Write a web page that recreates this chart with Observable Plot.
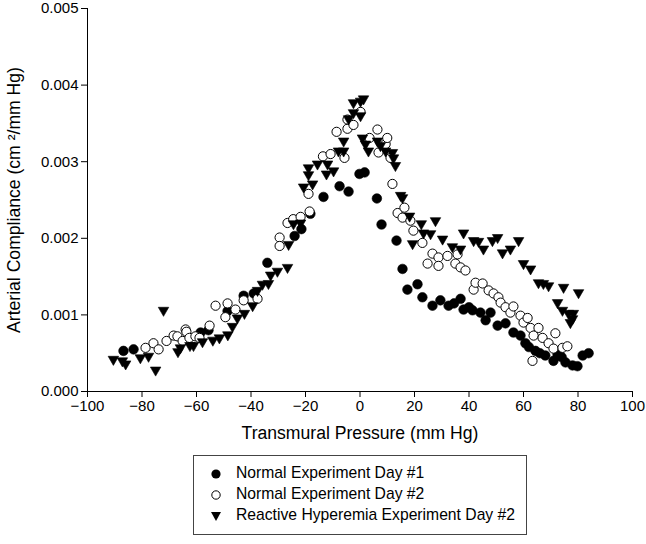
<!DOCTYPE html>
<html>
<head>
<meta charset="utf-8">
<script src="https://cdn.jsdelivr.net/npm/d3@7"></script>
<script src="https://cdn.jsdelivr.net/npm/@observablehq/plot@0.6"></script>
<style>
  body { margin: 0; background: white; font-family: "Liberation Sans", Arial, sans-serif; }
  #chart { position: relative; width: 646px; height: 544px; }
  #legend {
    position: absolute; left: 193px; top: 455px; width: 332px; height: 78px;
    border: 1px solid #444; box-sizing: content-box; font-size: 15.7px; color: #000;
  }
  .row { position: absolute; left: 16px; height: 20px; line-height: 20px; white-space: nowrap; }
  .row svg { vertical-align: middle; margin-right: 14px; }
</style>
</head>
<body>
<div id="chart">
  <div id="plot"></div>
  <div id="legend"></div>
</div>
<script>
// Arterial compliance vs transmural pressure, three experiment series

const seriesNames = [
  "Normal Experiment Day #1",
  "Normal Experiment Day #2",
  "Reactive Hyperemia Experiment Day #2"
];

const xTicks = [-100, -80, -60, -40, -20, 0, 20, 40, 60, 80, 100];
const yTicks = [0, 0.001, 0.002, 0.003, 0.004, 0.005];

// Normal Experiment Day #1 (filled circles)
const day1X = [-86.8, -83.1, -58.5, -55.6, -48.6, -42.7, -39, -34, -24, -21.5, -18.2, -13.4, -7.5, -4.2, -0.2, 1.7,
  6.2, 7.9, 13.4, 15.6, 17.4, 21.1, 22.9, 26.6, 29.5, 32.5, 34.5, 36.9, 38, 40, 41.3, 44.2, 46.1, 47.9, 50.5, 53.4,
  56.3, 58.9, 60.7, 62, 64.4, 66, 68, 71, 72.5, 74, 75.4, 78, 79.8, 81.7, 83.9];
const day1Y = [0.00053, 0.00055, 0.00077, 0.0008, 0.00105, 0.00125, 0.00128, 0.00168, 0.00203, 0.00212, 0.00232,
  0.00254, 0.00268, 0.00261, 0.00284, 0.00286, 0.00252, 0.00218, 0.00197, 0.0016, 0.00133, 0.0014, 0.00123, 0.00112,
  0.00119, 0.00112, 0.00115, 0.00121, 0.00107, 0.0011, 0.00106, 0.00103, 0.00093, 0.00103, 0.00086, 0.00089, 0.00077,
  0.00073, 0.00063, 0.00058, 0.00053, 0.0005, 0.00047, 0.0004, 0.00048, 0.00045, 0.00038, 0.00034, 0.00033, 0.00047,
  0.0005];

// Normal Experiment Day #2 (open circles)
const day2X = [-78.7, -75.8, -73.9, -71, -68.4, -67, -65.1, -64, -63.7, -62.6, -60.4, -58.9, -55.2, -53, -49.4, -48.6,
  -45.7, -42.7, -37.6, -29.5, -29.5, -26.6, -24.5, -21.8, -18.5, -18.9, -13.6, -10.8, -8.6, -5.7, -4.6, -4.6, -2.4,
  0.2, 3.5, 6.4, 6.8, 9.4, 10, 11.2, 11.9, 13.8, 15.6, 16.3, 18.5, 19.6, 22.9, 24.8, 26.6, 28.8, 28.8, 32.1, 35, 35.8,
  36.9, 38.7, 41.7, 42.4, 45, 47.2, 49, 50.8, 51.6, 53.4, 55.2, 56.3, 58.9, 60, 61.5, 62.6, 63.3, 63.7, 65.5, 67, 69.2,
  71, 71.7, 74.3, 76.1];
const day2Y = [0.00057, 0.00063, 0.00055, 0.00066, 0.00073, 0.00072, 0.00066, 0.00081, 0.00078, 0.0007, 0.00072,
  0.0007, 0.00086, 0.00112, 0.00097, 0.00115, 0.00107, 0.00119, 0.00121, 0.00201, 0.0019, 0.0022, 0.00225, 0.00228,
  0.00235, 0.00258, 0.00307, 0.0031, 0.00339, 0.00305, 0.00343, 0.00355, 0.00348, 0.00365, 0.00331, 0.00342, 0.00312,
  0.00323, 0.00331, 0.00305, 0.00271, 0.00233, 0.00227, 0.0024, 0.00223, 0.0021, 0.00194, 0.00167, 0.0018, 0.00175,
  0.00164, 0.00177, 0.00167, 0.00179, 0.00162, 0.00158, 0.00133, 0.00142, 0.00141, 0.00132, 0.00128, 0.00123, 0.00116,
  0.0011, 0.00103, 0.00111, 0.00099, 0.0009, 0.00096, 0.00083, 0.0004, 0.00073, 0.00083, 0.0007, 0.00063, 0.00056,
  0.00076, 0.00057, 0.00059];

// Reactive Hyperemia Experiment Day #2 (down triangles)
const rhX = [-90.5, -87.2, -86, -80.6, -77.6, -75, -72.1, -66.8, -65.9, -62.4, -61.1, -57.8, -54, -51.6, -48.5, -46.8,
  -45, -42.4, -39.4, -37.6, -35.8, -33.6, -32.8, -30.3, -26.6, -26.2, -24.4, -21.8, -20.7, -17.4, -18.9, -18.9, -15.6,
  -11.9, -12.3, -9.7, -7.9, -6, -6, -4.2, -2.4, -2.4, 0.2, 1.3, 0.2, 0.9, 2, 3.1, 6.4, 7.5, 9.4, 11.9, 12.3, 13, 14.9,
  15.6, 18.2, 19.3, 22.5, 23.3, 25.9, 27.7, 30.3, 33.9, 36.9, 38, 41.7, 43.5, 45.3, 48.6, 50.5, 52.3, 55.2, 58.2, 60,
  62.6, 65.5, 67.3, 69.2, 72.5, 74.3, 74.7, 76.5, 77.2, 78, 78.3, 80.2];
const rhY = [0.00042, 0.0004, 0.00036, 0.00044, 0.00046, 0.00028, 0.00106, 0.00052, 0.00057, 0.0006, 0.0006, 0.00065,
  0.00067, 0.0007, 0.00074, 0.00085, 0.00096, 0.00102, 0.00112, 0.00132, 0.0014, 0.00141, 0.00152, 0.00157, 0.00162,
  0.00192, 0.00219, 0.0022, 0.00267, 0.00271, 0.00283, 0.00292, 0.00297, 0.00297, 0.00284, 0.00288, 0.00314, 0.00314,
  0.00327, 0.00356, 0.00364, 0.00377, 0.00379, 0.00382, 0.0036, 0.00331, 0.00323, 0.00314, 0.00327, 0.00321, 0.00314,
  0.00312, 0.00305, 0.00295, 0.00256, 0.00253, 0.00229, 0.00193, 0.00219, 0.00207, 0.00206, 0.00223, 0.00199, 0.00189,
  0.00186, 0.00207, 0.00197, 0.00196, 0.00186, 0.00197, 0.00201, 0.00181, 0.00186, 0.00197, 0.00167, 0.0016, 0.00142,
  0.00141, 0.00138, 0.00116, 0.00106, 0.00136, 0.00102, 0.0009, 0.00095, 0.00102, 0.00129];

const zip = (xs, ys) => xs.map((x, i) => ({x: x, y: ys[i]}));
const day1 = zip(day1X, day1Y);
const day2 = zip(day2X, day2Y);
const rh = zip(rhX, rhY);

const font = "'Liberation Sans', Arial, sans-serif";

const plot = Plot.plot({
  width: 646,
  height: 450,
  marginLeft: 87,
  marginRight: 14,
  marginTop: 8,
  marginBottom: 59,
  style: {fontFamily: font, fontSize: "15px", color: "#000", background: "white"},
  x: {domain: [-100, 100]},
  y: {domain: [0, 0.005]},
  marks: [
    Plot.axisX({ticks: xTicks, tickSize: 6, tickPadding: 3, label: null, fontSize: 15}),
    Plot.axisY({ticks: yTicks, tickSize: 6, tickPadding: 3, tickFormat: d3.format(".3f"), label: null, fontSize: 15}),
    Plot.ruleY([0], {stroke: "#000", strokeWidth: 1}),
    Plot.ruleX([-100], {stroke: "#000", strokeWidth: 1}),
    Plot.dot(day1, {x: "x", y: "y", r: 4.8, fill: "#000", stroke: "#000", strokeWidth: 0.6}),
    Plot.dot(day2, {x: "x", y: "y", r: 4.6, fill: "white", stroke: "#000", strokeWidth: 1}),
    Plot.dot(rh, {x: "x", y: "y", symbol: "triangle", rotate: 180, r: 3.9, fill: "#000", stroke: "#000", strokeWidth: 0.6}),
    // axis titles
    Plot.text(["Transmural Pressure (mm Hg)"], {
      text: d => d, frameAnchor: "bottom", dy: 47, fontSize: 17.6, fill: "#000"
    }),
    Plot.text(["Arterial Compliance (cm \u00b2/mm Hg)"], {
      text: d => d, frameAnchor: "left", textAnchor: "middle", dx: -73, rotate: -90, fontSize: 17.6, fill: "#000"
    })
  ]
});

document.getElementById("plot").appendChild(plot);

// Legend box below the chart
const symbols = [
  '<svg width="12" height="12"><circle cx="6" cy="6" r="4.6" fill="#000"/></svg>',
  '<svg width="12" height="12"><circle cx="6" cy="6" r="4.2" fill="white" stroke="#000" stroke-width="1"/></svg>',
  '<svg width="12" height="12"><path d="M1,2 L11,2 L6,11 Z" fill="#000"/></svg>'
];
const legend = document.getElementById("legend");
seriesNames.forEach((name, i) => {
  const row = document.createElement("div");
  row.className = "row";
  row.style.top = (7 + i * 21) + "px";
  row.innerHTML = symbols[i] + "<span>" + name + "</span>";
  legend.appendChild(row);
});
</script>
</body>
</html>
